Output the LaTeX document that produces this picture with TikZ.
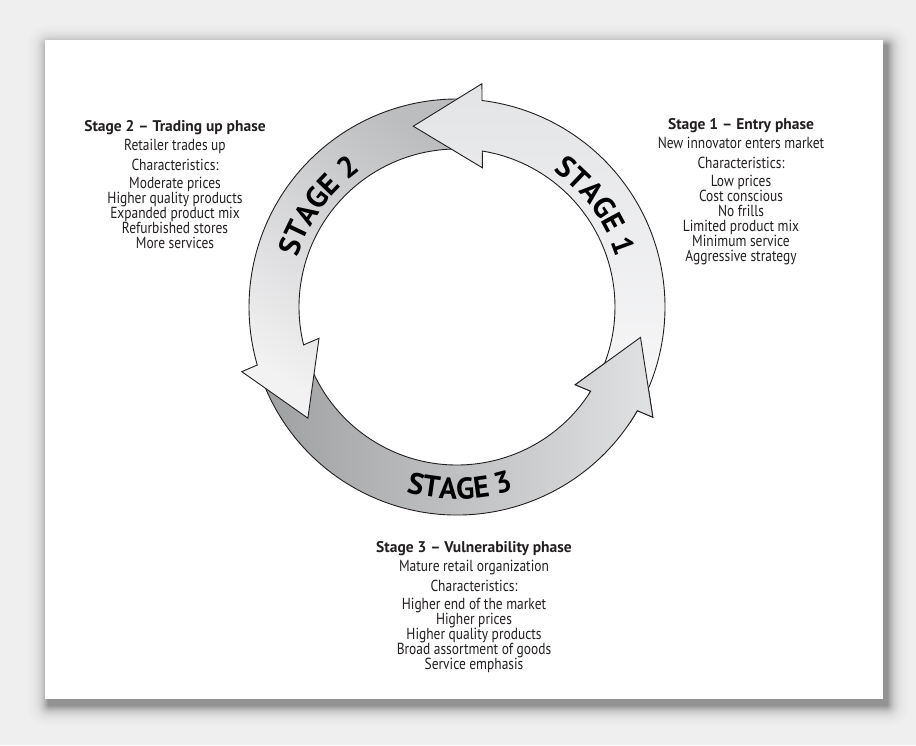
\documentclass[tikz,border=0pt]{standalone}
\usepackage{fontspec}
\setmainfont{PT Sans}
\newfontfamily\bodyfont[FakeStretch=0.84]{PT Sans}
\usetikzlibrary{decorations.text}
\definecolor{bggrey}{HTML}{EFEFF0}
\definecolor{edge}{HTML}{231F20}
\definecolor{sA1}{HTML}{E3E4E6}
\definecolor{sA2}{HTML}{F7F7F8}
\definecolor{sB1}{HTML}{BCBDBF}
\definecolor{sB2}{HTML}{F2F2F3}
\definecolor{sC1}{HTML}{9FA0A2}
\definecolor{sC2}{HTML}{E0E1E3}
\newcommand\stagefnt{\fontsize{30}{30}\selectfont\bfseries}
% #1 tail angle, #2 angle of the middle of the head's back
\newcommand\arrowshape[2]{(#1:208) arc[start angle=#1, end angle={#2+1.0}, radius=208] -- ({#2+1.53}:224.7) -- ({#2+21.5}:186) -- ({#2-2.43}:141.5) -- ({#2-1.31}:158) arc[start angle={#2-1.31}, end angle=#1, radius=158] -- cycle}
\tikzset{
  band/.style={draw=edge, line width=0.9pt, line join=miter},
  txt/.style={align=center, inner sep=0pt, text=edge, font=\bodyfont\fontsize{16}{15}\selectfont},
  stagelabel/.style={decorate, decoration={text along path, text={|\stagefnt|#1}, text align=center}}
}
\begin{document}
\begin{tikzpicture}[x=1pt,y=1pt]
\useasboundingbox (0,0) rectangle (916,745);
\fill[bggrey] (0,0) rectangle (916,745);
% soft shadow of the card
\foreach \k in {1,...,24}{
  \pgfmathsetmacro\op{0.078*exp(-\k/6)}
  \fill[black, fill opacity=\op, rounded corners=\k pt] ({49-\k},{40-\k}) rectangle ({887+\k},{699+\k});
}
\fill[white] (45,46) rectangle (883,705);

\begin{scope}[shift={(457,438)}]
  % stage 3 (bottom), stage 2 (left), stage 1 (right)
  \shadedraw[band, left color=sC1, right color=sC2] \arrowshape{201}{329.1};
  \shadedraw[band, top color=sB1, bottom color=sB2, shading angle=-35] \arrowshape{88}{195.2};
  \shadedraw[band, top color=sA1, bottom color=sA2] \arrowshape{-25}{82.1};
  % stage 3 head lies over the tail of stage 1
  \begin{scope}
    \clip (0,0) -- (326:300) arc[start angle=326, end angle=358, radius=300] -- cycle;
    \shadedraw[band, left color=sC1, right color=sC2] \arrowshape{201}{329.1};
  \end{scope}
  \path[stagelabel={STAGE 1}] (76:167) arc[start angle=76, end angle=-4, radius=167];
  \path[stagelabel={STAGE 2}] (184:167) arc[start angle=184, end angle=104, radius=167];
  \path[stagelabel={STAGE 3}] (231:192) arc[start angle=231, end angle=311, radius=192];
\end{scope}

\node[txt, anchor=north] (s2) at (175,625) {{\rmfamily\bfseries\fontsize{15.5}{15}\selectfont Stage 2 – Trading up phase}\\[4pt]
  Retailer trades up\\[5pt]Characteristics:\\[3pt]Moderate prices\\Higher quality products\\
  Expanded product mix\\Refurbished stores\\More services};
\node[txt, anchor=north] (s1) at (741,627) {{\rmfamily\bfseries\fontsize{15.5}{15}\selectfont Stage 1 – Entry phase}\\[4pt]
  New innovator enters market\\[5pt]Characteristics:\\[3pt]Low prices\\Cost conscious\\No frills\\
  Limited product mix\\Minimum service\\Aggressive strategy};
\node[txt, anchor=north] (s3) at (474,204) {{\rmfamily\bfseries\fontsize{15.5}{15}\selectfont Stage 3 – Vulnerability phase}\\[4pt]
  Mature retail organization\\[5pt]Characteristics:\\[3pt]Higher end of the market\\Higher prices\\
  Higher quality products\\Broad assortment of goods\\Service emphasis};
\end{tikzpicture}
\end{document}
